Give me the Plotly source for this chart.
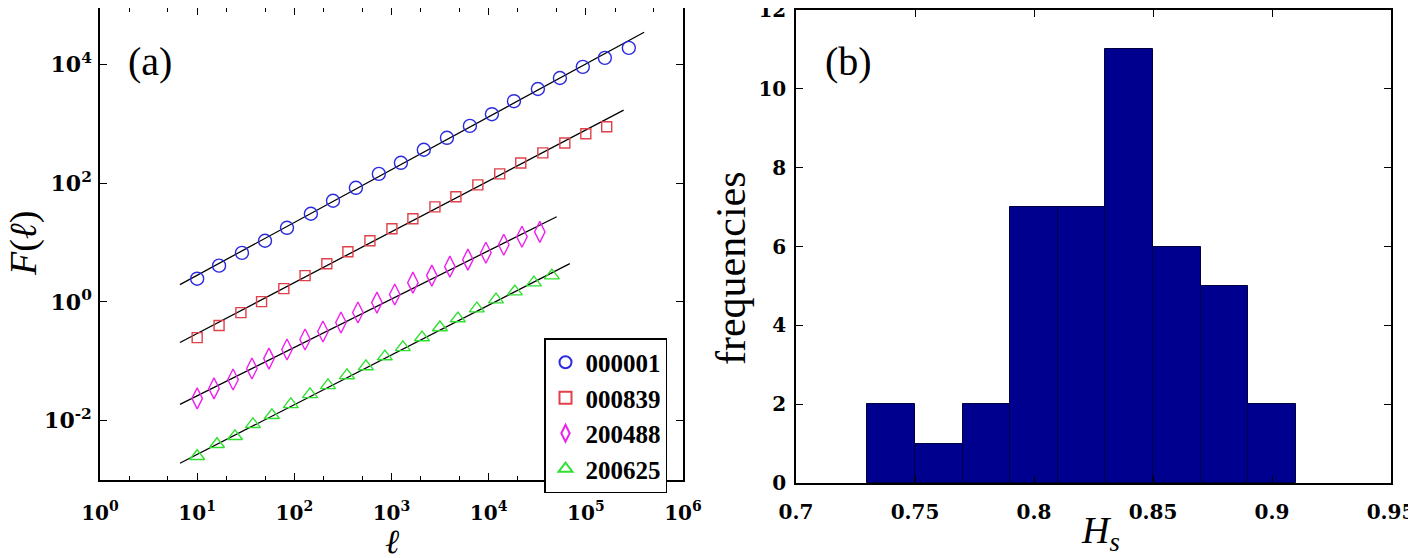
import plotly.graph_objects as go
import numpy as np

# ---------------- Panel (a) data ----------------
names = ["000001", "000839", "200488", "200625"]

x_000001 = [10, 16.8, 28.9, 49.9, 84, 148, 250, 430, 741, 1250, 2150, 3720, 6410, 10800, 18200, 32100, 54100, 93100, 157000, 277000]
y_000001 = [2.46, 4.08, 6.7, 10.7, 17.7, 30.5, 50.5, 83.5, 143, 220, 365, 580, 920, 1450, 2400, 3850, 5900, 9100, 12900, 19000]

x_000839 = [10, 16.8, 28.2, 46, 78, 129, 216, 356, 600, 1010, 1660, 2800, 4600, 7740, 13000, 21400, 36100, 60800, 100000, 164000]
y_000839 = [0.25, 0.40, 0.66, 1.01, 1.67, 2.77, 4.4, 7.0, 10.7, 17.1, 25.1, 39.9, 59, 93.6, 143, 219, 323, 475, 680, 890]

x_200488 = [10, 14.9, 23.4, 36.6, 54.8, 84, 129, 197, 302, 451, 708, 1080, 1660, 2600, 3990, 6110, 9360, 14300, 22000, 33600]
y_200488 = [0.0237, 0.0349, 0.0494, 0.0757, 0.111, 0.158, 0.232, 0.317, 0.449, 0.661, 0.973, 1.33, 2.11, 2.77, 3.92, 5.14, 6.74, 9.18, 12.5, 15.1]

x_200625 = [10, 16, 24.5, 37.5, 58.8, 92, 145, 222, 348, 545, 855, 1310, 2060, 3150, 4820, 7560, 11900, 18600, 29200, 44700]
y_200625 = [0.00251, 0.0040, 0.00545, 0.00867, 0.0123, 0.0188, 0.0277, 0.0392, 0.0577, 0.0818, 0.120, 0.171, 0.251, 0.370, 0.524, 0.771, 1.09, 1.49, 2.11, 2.77]

# power-law fits: log10 F = slope*log10 l + intercept, over [fit_lmin, fit_lmax]
fit_slope = [0.89, 0.857, 0.815, 0.838]
fit_intercept = [-0.442, -1.389, -2.397, -3.408]
fit_lmin = [6.65, 6.65, 6.65, 6.65]
fit_lmax = [398000, 245000, 50100, 68400]

# ---------------- Panel (b) data ----------------
bin_left = [0.73, 0.75, 0.77, 0.79, 0.81, 0.83, 0.85, 0.87, 0.89]
bin_width = 0.02
counts = [2, 1, 2, 7, 7, 11, 6, 5, 2]

xticks_a = [1, 10, 100, 1000, 10000, 100000, 1000000]
xticktext_a = ["<b>10<sup>%d</sup></b>" % k for k in range(0, 7)]
yticks_a = [0.01, 1, 100, 10000]
yticktext_a = ["<b>10<sup>-2</sup></b>", "<b>10<sup>0</sup></b>", "<b>10<sup>2</sup></b>", "<b>10<sup>4</sup></b>"]
xticks_b = [0.7, 0.75, 0.8, 0.85, 0.9, 0.95]
xticktext_b = ["<b>0.7</b>", "<b>0.75</b>", "<b>0.8</b>", "<b>0.85</b>", "<b>0.9</b>", "<b>0.95</b>"]
yticks_b = [0, 2, 4, 6, 8, 10, 12]
yticktext_b = ["<b>%d</b>" % v for v in yticks_b]

xs = [x_000001, x_000839, x_200488, x_200625]
ys = [y_000001, y_000839, y_200488, y_200625]
colors = ["#2a2ae0", "#e0404a", "#f020f0", "#30e030"]
symbols = ["circle-open", "square-open", "diamond-tall-open", "triangle-up-open"]
sizes = [13, 10, 15, 13]

FONT = "Liberation Serif"
TICKFONT = "DejaVu Serif"

fig = go.Figure()

for i in range(4):
    lx = np.array([fit_lmin[i], fit_lmax[i]])
    ly = 10 ** (fit_slope[i] * np.log10(lx) + fit_intercept[i])
    fig.add_trace(go.Scatter(x=lx, y=ly, mode="lines",
                             line=dict(color="black", width=1.3),
                             showlegend=False, xaxis="x", yaxis="y"))

for i in range(4):
    fig.add_trace(go.Scatter(x=xs[i], y=ys[i], mode="markers", name="<b>" + names[i] + "</b>",
                             marker=dict(symbol=symbols[i], size=sizes[i], color=colors[i],
                                         line=dict(width=1.4, color=colors[i])),
                             xaxis="x", yaxis="y"))

bar_centers = [b + bin_width / 2 for b in bin_left]
fig.add_trace(go.Bar(x=bar_centers, y=counts, width=bin_width,
                     marker=dict(color="#00008f", line=dict(color="#000040", width=1)),
                     showlegend=False, xaxis="x2", yaxis="y2"))

# the page body has an 8px margin, so the figure is drawn offset by (8, 8)
OFF = 8
W, H = 1416 - OFF, 558 - OFF
def px_x(p): return min(1.0, max(0.0, (p - OFF) / W))
def px_y(p): return min(1.0, max(0.0, 1 - (p - OFF) / H))

def axis_common(size):
    return dict(showline=True, linecolor="black", linewidth=1.5, mirror="ticks",
                ticks="inside", tickcolor="black", ticklen=7, tickwidth=1.2,
                showgrid=False, zeroline=False, automargin=False,
                ticklabeloverflow="allow",
                tickfont=dict(family=TICKFONT, size=size, color="black"))

fig.update_layout(
    width=W, height=H,
    margin=dict(l=0, r=0, t=0, b=0),
    font=dict(family=FONT, color="black"),
    paper_bgcolor="white", plot_bgcolor="white",
    xaxis=dict(type="log", range=[0, 6], domain=[px_x(100), px_x(683)],
               tickvals=xticks_a, ticktext=xticktext_a, anchor="y",
               minor=dict(ticks="inside", ticklen=4, tickcolor="black", showgrid=False),
               ticklabelstandoff=14,
               **axis_common(20)),
    yaxis=dict(type="log", range=[-3, 4.95], domain=[px_y(480), px_y(8)],
               tickvals=yticks_a, ticktext=yticktext_a, anchor="x",
               ticklabelstandoff=2,
               **axis_common(22)),
    xaxis2=dict(range=[0.7, 0.95], domain=[px_x(796), px_x(1391)], anchor="y2",
                tickvals=xticks_b, ticktext=xticktext_b,
                ticklabelstandoff=10,
                **axis_common(20)),
    yaxis2=dict(range=[0, 12], domain=[px_y(483), px_y(10)], anchor="x2",
                tickvals=yticks_b, ticktext=yticktext_b,
                ticklabelstandoff=4,
                **axis_common(20)),
    legend=dict(x=px_x(544), y=px_y(338), xanchor="left", yanchor="top",
                bgcolor="white", bordercolor="black", borderwidth=1.5,
                font=dict(family=FONT, size=25, color="black"),
                itemsizing="constant", tracegroupgap=0),
    bargap=0,
    showlegend=True,
)

annots = [
    dict(text="(a)", x=px_x(150), y=px_y(62), font=dict(size=40)),
    dict(text="(b)", x=px_x(848), y=px_y(62), font=dict(size=40)),
    dict(text="<i>F</i>(<i>ℓ</i>)", x=px_x(23), y=px_y(244), font=dict(size=38), textangle=-90),
    dict(text="<i>ℓ</i>", x=px_x(392), y=px_y(541), font=dict(size=34)),
    dict(text="frequencies", x=px_x(731), y=px_y(268), font=dict(size=42), textangle=-90),
    dict(text="<i>H<sub>s</sub></i>", x=px_x(1100), y=px_y(533), font=dict(size=38)),
]
for a in annots:
    a["font"]["family"] = FONT
    a["font"]["color"] = "black"
    fig.add_annotation(xref="paper", yref="paper", showarrow=False,
                       xanchor="center", yanchor="middle", **a)

fig.write_html("out.html")
